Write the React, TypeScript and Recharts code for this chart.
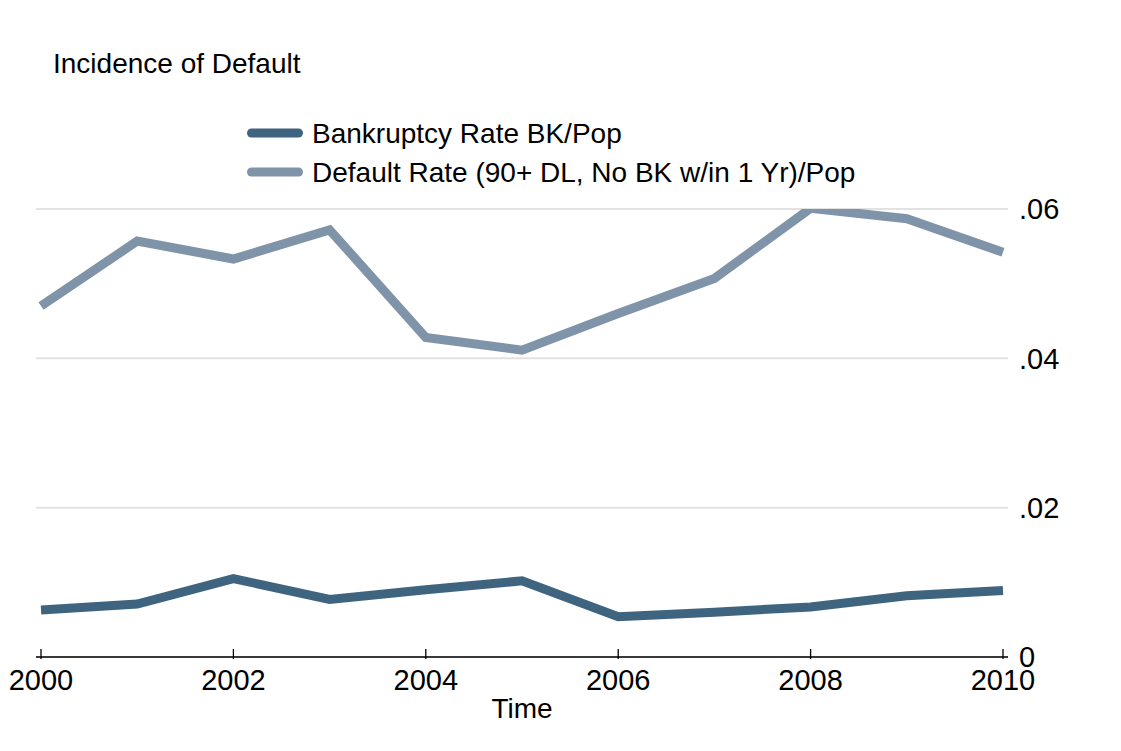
import React from "react";
import { LineChart, Line, XAxis, YAxis, CartesianGrid, Customized } from "recharts";

const years = [2000, 2001, 2002, 2003, 2004, 2005, 2006, 2007, 2008, 2009, 2010];
const bankruptcyRate = [0.0063, 0.0071, 0.0105, 0.0077, 0.009, 0.0102, 0.0054, 0.006, 0.0067, 0.0082, 0.0089];
const defaultRate = [0.047, 0.0557, 0.0533, 0.0572, 0.0428, 0.0411, 0.046, 0.0507, 0.0601, 0.0587, 0.0542];
const xTicks = [2000, 2002, 2004, 2006, 2008, 2010];
const yTicks = [0, 0.02, 0.04, 0.06];
const seriesNames = ["Bankruptcy Rate BK/Pop", "Default Rate (90+ DL, No BK w/in 1 Yr)/Pop"];
const colors = ["#3f6480", "#7f94a9"];

const data = years.map((y, i) => ({ year: y, bk: bankruptcyRate[i], def: defaultRate[i] }));

const FONT = "'Liberation Sans', Arial, sans-serif";

const XTick = (props: any) => {
  const { x, y, payload } = props;
  return (
    <g>
      <line x1={x} x2={x} y1={y + 2} y2={y - 8} stroke="#000" strokeWidth={1.3} />
      <text x={x} y={y + 33} textAnchor="middle" fontSize={29} fontFamily={FONT} fill="#000">
        {payload.value}
      </text>
    </g>
  );
};

const fmtY = (v: number) => (v === 0 ? "0" : v.toFixed(2).replace(/^0/, ""));

const LegendSvg = () => (
  <g>
    {seriesNames.map((n, i) => (
      <g key={n}>
        <line
          x1={243.5}
          x2={290.5}
          y1={125 + i * 39}
          y2={125 + i * 39}
          stroke={colors[i]}
          strokeWidth={9}
          strokeLinecap="round"
        />
        <text x={304} y={135 + i * 39} fontSize={28} fontFamily={FONT} fill="#000">
          {n}
        </text>
      </g>
    ))}
  </g>
);

const Title = () => (
  <text x={45} y={65} fontSize={28} fontFamily={FONT} fill="#000">
    Incidence of Default
  </text>
);

export default function App() {
  return (
    <div style={{ width: 1113, height: 735, background: "#fff" }}>
      <LineChart
        width={1113}
        height={735}
        data={data}
        margin={{ top: 201, right: 53, bottom: 16, left: 28 }}
      >
        <CartesianGrid vertical={false} stroke="#e2e2e2" strokeWidth={2} />
        <XAxis
          dataKey="year"
          type="number"
          domain={[2000, 2010]}
          ticks={xTicks}
          padding={{ left: 5, right: 5 }}
          tickLine={false}
          tickSize={0}
          tickMargin={0}
          height={70}
          axisLine={{ stroke: "#000", strokeWidth: 1.5 }}
          tick={<XTick />}
          interval={0}
          label={{ value: "Time", position: "insideBottom", offset: 9, fontSize: 28, fontFamily: FONT, fill: "#000" }}
        />
        <YAxis
          orientation="right"
          domain={[0, 0.06]}
          allowDataOverflow
          ticks={yTicks}
          width={60}
          axisLine={false}
          tickLine={false}
          tickSize={9}
          tickMargin={2}
          tickFormatter={fmtY}
          tick={{ fontSize: 29, fontFamily: FONT, fill: "#000", textAnchor: "start" }}
          interval={0}
        />
        <Line
          dataKey="def"
          name={seriesNames[1]}
          stroke={colors[1]}
          strokeWidth={9}
          dot={false}
          isAnimationActive={false}
        />
        <Line
          dataKey="bk"
          name={seriesNames[0]}
          stroke={colors[0]}
          strokeWidth={9}
          dot={false}
          isAnimationActive={false}
        />
        <Customized component={<LegendSvg />} />
        <Customized component={<Title />} />
      </LineChart>
    </div>
  );
}
